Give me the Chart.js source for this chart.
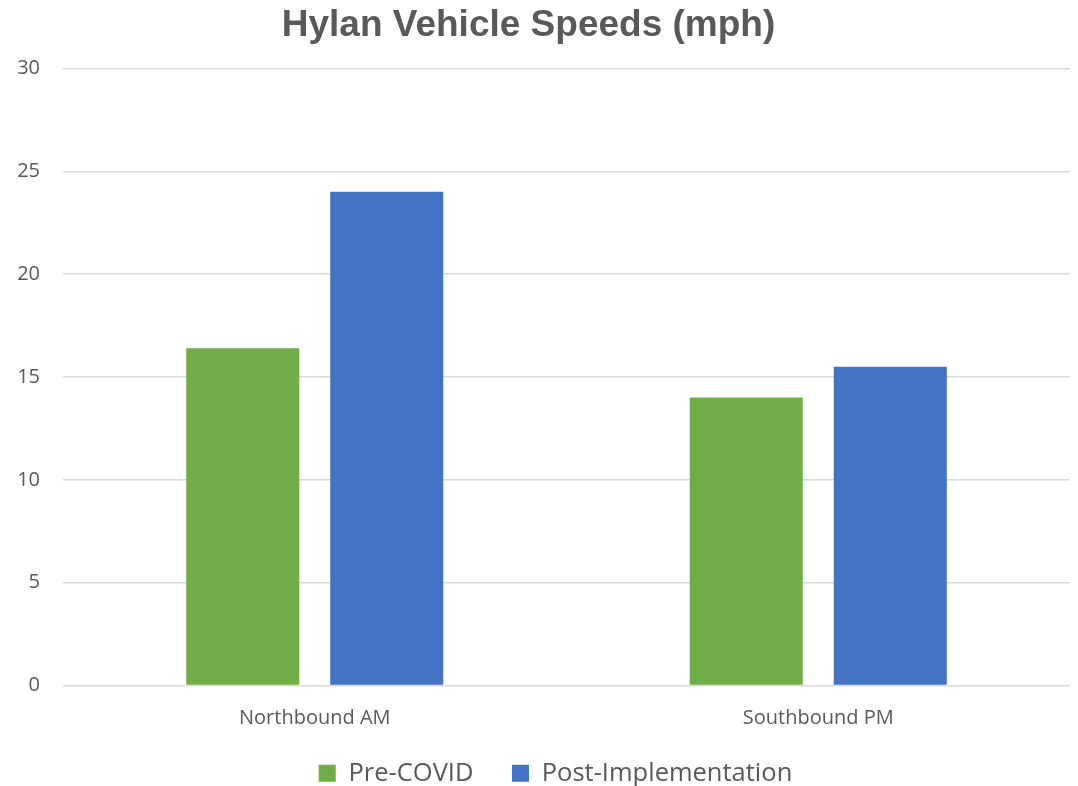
<!DOCTYPE html>
<html>
<head>
<meta charset="utf-8">
<script src="https://cdn.jsdelivr.net/npm/chart.js"></script>
<style>
  html, body { margin: 0; padding: 0; background: #fff; }
  #wrap { width: 1078px; height: 786px; }
</style>
</head>
<body>
<div id="wrap"><canvas id="speedChart"></canvas></div>
<script>
const categories = ["Northbound AM", "Southbound PM"];
const preCovid = [16.4, 14.0];
const postImpl = [24.0, 15.5];
const yTicks = [0, 5, 10, 15, 20, 25, 30];

const ctx = document.getElementById("speedChart").getContext("2d");

// 범례, 제목 위치 미세 조정
const boxShift = {
    id: "boxShift",
    afterLayout(chart) {
        const lg = chart.legend;
        lg.left += 12;
        lg.right += 12;
        lg.top += 5;
        lg.bottom += 5;
        const tt = chart.titleBlock;
        if (tt) {
            tt.left -= 15;
            tt.right -= 15;
        }
    },
};

new Chart(ctx, {
    type: "bar",
    data: {
        labels: categories,
        datasets: [
            {
                label: "Pre-COVID",
                data: preCovid,
                backgroundColor: "#70AD47",
            },
            {
                label: "Post-Implementation",
                data: postImpl,
                backgroundColor: "#4472C4",
            },
        ],
    },
    options: {
        responsive: true,
        maintainAspectRatio: false,
        animation: false,
        categoryPercentage: 0.572,
        barPercentage: 0.785,
        layout: {
            padding: { left: 17, right: 8, top: 0, bottom: -5 },
        },
        scales: {
            y: {
                min: yTicks[0],
                max: yTicks[yTicks.length - 1],
                afterFit: (axis) => {
                    axis.width = 46; // 라벨 + 여백 폭 고정
                },
                ticks: {
                    stepSize: 5,
                    color: "#595959",
                    font: { family: "Open Sans", size: 20 },
                    padding: 23,
                },
                grid: {
                    color: "#d9d9d9",
                    lineWidth: 1.5,
                    drawTicks: false,
                },
                border: { display: false },
            },
            x: {
                ticks: {
                    color: "#595959",
                    font: { family: "Open Sans", size: 20 },
                    padding: 13,
                },
                grid: { display: false },
                border: { display: false },
            },
        },
        plugins: {
            title: {
                display: true,
                text: "Hylan Vehicle Speeds (mph)",
                color: "#595959",
                font: { family: "Liberation Sans", size: 37, weight: "bold" },
                padding: { top: 4, bottom: 20 },
            },
            legend: {
                position: "bottom",
                labels: {
                    color: "#595959",
                    font: { family: "Open Sans", size: 25.5 },
                    boxWidth: 17,
                    boxHeight: 17,
                    padding: 12,
                    // 항목 간 간격을 넓히기 위해 첫 항목 뒤에 공백 추가
                    generateLabels: (chart) => {
                        const items = Chart.defaults.plugins.legend.labels.generateLabels(chart);
                        items[0].text = items[0].text + "    ";
                        return items;
                    },
                },
            },
            tooltip: { enabled: false },
        },
    },
    plugins: [boxShift],
});
</script>
</body>
</html>
